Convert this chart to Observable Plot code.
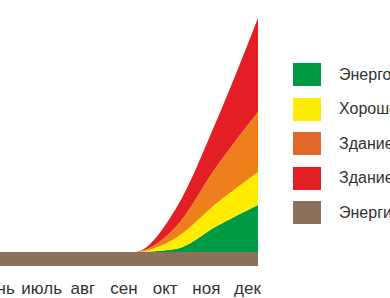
<!DOCTYPE html>
<html>
<head>
<meta charset="utf-8">
<script src="https://cdn.jsdelivr.net/npm/d3@7"></script>
<script src="https://cdn.jsdelivr.net/npm/@observablehq/plot@0.6"></script>
<style>
  html, body { margin: 0; padding: 0; background: #fff; }
  #wrap { position: relative; width: 390px; height: 298px; overflow: hidden; font-family: Arial, "Liberation Sans", Helvetica, sans-serif; }
  #legend { position: absolute; left: 293px; top: 63px; white-space: nowrap; }
  .row { display: flex; align-items: center; height: 23px; margin-bottom: 11.6px; }
  .sw { width: 28px; height: 23px; flex: none; }
  .lab { margin-left: 18px; font-size: 16px; color: #333; }
</style>
</head>
<body>
<div id="wrap"><div id="chart"></div><div id="legend"></div></div>
<script>
// Months (numeric) and visible tick labels
const months = [5, 6, 7, 8, 9, 10, 11, 12];
const tickMonths = [6, 7, 8, 9, 10, 11, 12];
const tickLabels = ["июнь", "июль", "авг", "сен", "окт", "ноя", "дек"];

// Series names (legend order)
const seriesNames = [
  "Энергоэффективное здание",
  "Хорошо утеплённое здание",
  "Здание с частичным утеплением",
  "Здание без утепления",
  "Энергия на горячую воду"
];

// Series values per month (May..Dec)
const efficient  = [0, 0, 0, 0, 0, 3, 26, 47];
const good       = [0, 0, 0, 0, 0, 11, 23, 33];
const partial    = [0, 0, 0, 0, 0, 11, 37, 60];
const poor       = [0, 0, 0, 0, 0, 18, 46, 94];
const hotWater   = [14, 14, 14, 14, 14, 14, 14, 14];

const areaColors   = ["#009A44", "#FFEC00", "#EF7E1D", "#E31E25", "#8C705A"];
const legendColors = ["#009A44", "#FFEC00", "#E4682A", "#E31E25", "#8C705A"];

const seriesValues = [efficient, good, partial, poor, hotWater];
const data = [];
seriesNames.forEach((name, i) => {
  months.forEach((m, j) => data.push({series: name, month: m, value: seriesValues[i][j]}));
});

// stack order: hot water at bottom, then green, yellow, orange, red
const stackOrder = [seriesNames[4], seriesNames[0], seriesNames[1], seriesNames[2], seriesNames[3]];

const axisStyle = {tickSize: 0, tickPadding: 15, tickFormat: d => tickLabels[d - 6], label: null, fill: "#333"};

const chart = Plot.plot({
  width: 390,
  height: 298,
  marginLeft: 0,
  marginRight: 132,
  marginTop: 0,
  marginBottom: 32,
  style: {fontSize: "17px", fontFamily: "Arial, 'Liberation Sans', Helvetica, sans-serif", color: "#333", background: "transparent"},
  x: {domain: [6 - 11 / 41.17, 12]},
  y: {domain: [0, 266], axis: null},
  color: {domain: seriesNames, range: areaColors},
  marks: [
    Plot.areaY(data, {x: "month", y: "value", fill: "series", order: stackOrder, curve: "monotone-x", clip: true}),
    Plot.axisX(tickMonths.slice(0, 1), {...axisStyle, dx: -17}),
    Plot.axisX(tickMonths.slice(1), {...axisStyle, dx: -11})
  ]
});
document.getElementById("chart").appendChild(chart);

const legend = document.getElementById("legend");
seriesNames.forEach((name, i) => {
  const row = document.createElement("div");
  row.className = "row";
  const sw = document.createElement("div");
  sw.className = "sw";
  sw.style.background = legendColors[i];
  const lab = document.createElement("span");
  lab.className = "lab";
  lab.textContent = name;
  row.appendChild(sw);
  row.appendChild(lab);
  legend.appendChild(row);
});
</script>
</body>
</html>
